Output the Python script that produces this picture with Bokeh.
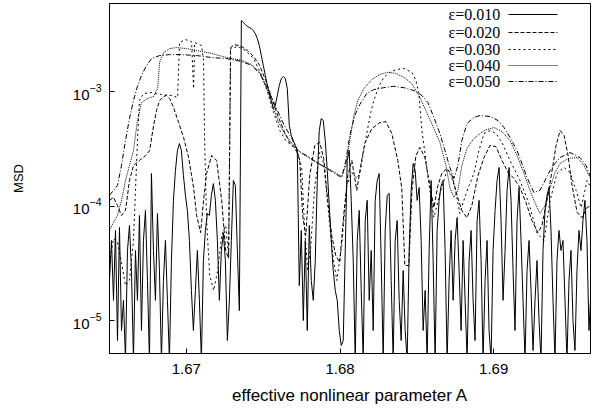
from bokeh.plotting import figure
from bokeh.models import Range1d, FixedTicker, Label, Arrow
from bokeh.embed import file_html
from bokeh.resources import INLINE

# ---------------- data ----------------
eps_labels = ["\u03b5=0.010", "\u03b5=0.020", "\u03b5=0.030", "\u03b5=0.040", "\u03b5=0.050"]
dashes = ["solid", "4 2", "2 3", "1 1", "5 2 1 2"]

x_ticks = [1.67, 1.68, 1.69]
y_ticks = [1e-5, 1e-4, 1e-3]

# eps = 0.010 (solid, strongly fluctuating)
A_010 = [
    1.66500, 1.66513, 1.66526, 1.66539, 1.66552, 1.66565, 1.66578, 1.66591, 1.66604, 1.66617,
    1.66630, 1.66643, 1.66656, 1.66669, 1.66682, 1.66695, 1.66708, 1.66721, 1.66734, 1.66747,
    1.66760, 1.66773, 1.66786, 1.66799, 1.66812, 1.66825, 1.66838, 1.66851, 1.66864, 1.66877,
    1.66890, 1.66903, 1.66916, 1.66929, 1.66942, 1.66955, 1.66968, 1.66981, 1.66994, 1.67007,
    1.67020, 1.67033, 1.67046, 1.67059, 1.67072, 1.67085, 1.67098, 1.67111, 1.67124, 1.67137,
    1.67150, 1.67163, 1.67176, 1.67189, 1.67202, 1.67215, 1.67228, 1.67241, 1.67254, 1.67267,
    1.67280, 1.67293, 1.67306, 1.67319, 1.67332, 1.67345, 1.67358, 1.67371, 1.67384, 1.67397,
    1.67410, 1.67423, 1.67436, 1.67449, 1.67462, 1.67475, 1.67488, 1.67501, 1.67514, 1.67527,
    1.67540, 1.67553, 1.67566, 1.67579, 1.67592, 1.67605, 1.67618, 1.67631, 1.67644, 1.67657,
    1.67670, 1.67683, 1.67696, 1.67709, 1.67722, 1.67735, 1.67748, 1.67761, 1.67774, 1.67787,
    1.67800, 1.67813, 1.67826, 1.67839, 1.67852, 1.67865, 1.67878, 1.67891, 1.67904, 1.67917,
    1.67930, 1.67943, 1.67956, 1.67969, 1.67982, 1.67995, 1.68008, 1.68021, 1.68034, 1.68047,
    1.68060, 1.68073, 1.68086, 1.68099, 1.68112, 1.68125, 1.68138, 1.68151, 1.68164, 1.68177,
    1.68190, 1.68203, 1.68216, 1.68229, 1.68242, 1.68255, 1.68268, 1.68281, 1.68294, 1.68307,
    1.68320, 1.68333, 1.68346, 1.68359, 1.68372, 1.68385, 1.68398, 1.68411, 1.68424, 1.68437,
    1.68450, 1.68463, 1.68476, 1.68489, 1.68502, 1.68515, 1.68528, 1.68541, 1.68554, 1.68567,
    1.68580, 1.68593, 1.68606, 1.68619, 1.68632, 1.68645, 1.68658, 1.68671, 1.68684, 1.68697,
    1.68710, 1.68723, 1.68736, 1.68749, 1.68762, 1.68775, 1.68788, 1.68801, 1.68814, 1.68827,
    1.68840, 1.68853, 1.68866, 1.68879, 1.68892, 1.68905, 1.68918, 1.68931, 1.68944, 1.68957,
    1.68970, 1.68983, 1.68996, 1.69009, 1.69022, 1.69035, 1.69048, 1.69061, 1.69074, 1.69087,
    1.69100, 1.69113, 1.69126, 1.69139, 1.69152, 1.69165, 1.69178, 1.69191, 1.69204, 1.69217,
    1.69230, 1.69243, 1.69256, 1.69269, 1.69282, 1.69295, 1.69308, 1.69321, 1.69334, 1.69347,
    1.69360, 1.69373, 1.69386, 1.69399, 1.69412, 1.69425, 1.69438, 1.69451, 1.69464, 1.69477,
    1.69490, 1.69503, 1.69516, 1.69529, 1.69542, 1.69555, 1.69568, 1.69581, 1.69594, 1.69607,
    1.69620, 1.69633,
]
MSD_010 = [
    2.24e-5, 5.0e-5, 1.5e-5, 6.11e-5, 6.69e-6, 6.5e-5, 8.18e-6, 1.5e-5, 4.5e-6, 4.09e-5,
    6.76e-5, 2.73e-5, 4.5e-6, 4.09e-5, 1.5e-5, 8.26e-5, 8.18e-6, 5.0e-5, 9.14e-5, 2.24e-5,
    4.5e-6, 1.92e-4, 4.09e-5, 1.5e-5, 8.6e-5, 2.73e-5, 4.5e-6, 2.24e-5, 5.0e-5, 1.5e-5,
    4.5e-6, 3.34e-5, 1.12e-4, 2.04e-4, 3.05e-4, 3.51e-4, 3.05e-4, 1.85e-4, 1.24e-4, 9.14e-5,
    5.0e-5, 1.83e-5, 8.18e-6, 1.83e-5, 4.09e-5, 1.5e-5, 4.5e-6, 3.34e-5, 6.11e-5, 8.6e-5,
    8.26e-5, 1.24e-4, 1.57e-4, 1.12e-4, 5.0e-5, 1.5e-5, 4.09e-5, 5.8e-5, 3.34e-5, 6.69e-6,
    1.5e-5, 5.0e-5, 1.67e-4, 1.51e-4, 4.09e-5, 1.22e-5, 4.17e-3, 4.0e-3, 3.85e-3, 3.7e-3,
    3.62e-3, 3.55e-3, 3.41e-3, 3.2e-3, 2.9e-3, 2.52e-3, 2.06e-3, 1.69e-3, 1.38e-3, 1.13e-3,
    9.6e-4, 8.34e-4, 7.1e-4, 7.55e-4, 9.23e-4, 1.13e-3, 1.3e-3, 1.35e-3, 1.3e-3, 1.06e-3,
    5.05e-4, 4.13e-4, 3.73e-4, 3.38e-4, 3.05e-4, 2.02e-5, 6.11e-5, 1.0e-5, 5.0e-5, 8.18e-6,
    6.76e-5, 2.24e-5, 1.5e-5, 3.34e-5, 1.67e-4, 4.56e-4, 5.81e-4, 5.58e-4, 3.73e-4, 2.04e-4,
    1.01e-4, 5.0e-5, 2.73e-5, 1.83e-5, 1.5e-5, 8.18e-6, 6.05e-6, 6.69e-6, 4.09e-5, 2.5e-4,
    3.05e-4, 1.12e-4, 3.34e-5, 4.5e-6, 5.0e-5, 9.14e-5, 1.83e-5, 4.5e-6, 7.47e-5, 1.12e-4,
    1.5e-5, 4.09e-5, 8.18e-6, 1.12e-4, 1.67e-4, 1.92e-4, 3.34e-5, 4.5e-6, 6.11e-5, 1.24e-4,
    1.29e-4, 2.24e-5, 4.5e-6, 5.0e-5, 7.47e-5, 1.5e-5, 6.69e-6, 2.73e-5, 8.18e-6, 4.5e-6,
    4.09e-5, 1.37e-4, 2.35e-4, 2.04e-4, 1.12e-4, 1.45e-4, 5.0e-5, 8.18e-6, 1.83e-5, 4.5e-6,
    4.09e-5, 1.67e-4, 3.34e-5, 4.5e-6, 6.11e-5, 1.12e-4, 1.51e-4, 1.67e-4, 4.09e-5, 4.5e-6,
    2.24e-5, 6.11e-5, 1.5e-5, 5.0e-5, 7.94e-5, 2.73e-5, 8.18e-6, 5.0e-5, 1.5e-5, 4.5e-6,
    3.34e-5, 6.11e-5, 1.5e-5, 6.69e-6, 7.47e-5, 1.12e-4, 3.34e-5, 4.5e-6, 2.24e-5, 5.0e-5,
    8.18e-6, 4.5e-6, 4.09e-5, 9.14e-5, 1.67e-4, 2.17e-4, 7.47e-5, 1.5e-5, 4.09e-5, 1.37e-4,
    2.17e-4, 1.12e-4, 2.73e-5, 8.18e-6, 7.47e-5, 1.45e-4, 5.0e-5, 1.5e-5, 4.5e-6, 2.73e-5,
    5.0e-5, 1.83e-5, 5.47e-6, 1.5e-5, 3.34e-5, 1.0e-5, 4.5e-6, 4.09e-5, 9.14e-5, 1.24e-4,
    1.45e-4, 6.11e-5, 1.5e-5, 4.5e-6, 3.34e-5, 6.11e-5, 4.09e-5, 5.0e-5, 1.5e-5, 4.5e-6,
    2.24e-5, 4.09e-5, 1.0e-5, 5.47e-6, 2.73e-5, 6.11e-5, 4.09e-5, 7.47e-5, 1.12e-4, 5.0e-5,
    8.18e-6, 1.83e-5,
]

# eps = 0.020 (dashed)
A_020 = [
    1.66500, 1.66526, 1.66552, 1.66578, 1.66604, 1.66630, 1.66656, 1.66695, 1.66735, 1.66761,
    1.66787, 1.66806, 1.66826, 1.66852, 1.66871, 1.66891, 1.66917, 1.66950, 1.66982, 1.67015,
    1.67047, 1.67067, 1.67093, 1.67112, 1.67132, 1.67165, 1.67197, 1.67230, 1.67256, 1.67275,
    1.67288, 1.67314, 1.67360, 1.67399, 1.67438, 1.67477, 1.67516, 1.67555, 1.67595, 1.67634,
    1.67673, 1.67712, 1.67738, 1.67757, 1.67777, 1.67803, 1.67836, 1.67868, 1.67894, 1.67920,
    1.67946, 1.67972, 1.67998, 1.68024, 1.68051, 1.68077, 1.68109, 1.68135, 1.68161, 1.68207,
    1.68259, 1.68298, 1.68337, 1.68376, 1.68402, 1.68422, 1.68448, 1.68468, 1.68494, 1.68520,
    1.68552, 1.68585, 1.68611, 1.68637, 1.68663, 1.68696, 1.68728, 1.68761, 1.68793, 1.68826,
    1.68858, 1.68898, 1.68937, 1.68976, 1.69015, 1.69054, 1.69093, 1.69132, 1.69171, 1.69210,
    1.69249, 1.69288, 1.69314, 1.69347, 1.69380, 1.69406, 1.69432, 1.69458, 1.69484, 1.69510,
    1.69543, 1.69575, 1.69608, 1.69640,
]
MSD_020 = [
    1.12e-4, 1.19e-4, 1.01e-4, 8.26e-5, 9.14e-5, 1.67e-4, 2.26e-4, 2.50e-4, 2.76e-4, 3.05e-4,
    5.05e-4, 6.82e-4, 8.34e-4, 9.05e-4, 9.23e-4, 8.7e-4, 7.25e-4, 5.35e-4, 3.97e-4, 2.65e-4,
    1.45e-4, 8.26e-5, 5.85e-5, 1.12e-4, 1.93e-4, 2.76e-4, 2.50e-4, 1.12e-4, 4.09e-5, 3.48e-5,
    2.42e-3, 2.57e-3, 2.47e-3, 2.28e-3, 2.02e-3, 1.69e-3, 1.25e-3, 8.86e-4, 6.17e-4, 4.56e-4,
    3.59e-4, 3.18e-4, 2.50e-4, 8.26e-5, 5.52e-5, 1.85e-4, 3.38e-4, 3.59e-4, 2.60e-4, 1.12e-4,
    5.52e-5, 3.70e-5, 3.22e-5, 8.26e-5, 1.85e-4, 2.50e-4, 1.37e-4, 2.26e-4, 3.52e-4, 4.74e-4,
    5.35e-4, 5.46e-4, 4.30e-4, 2.50e-4, 1.42e-4, 3.02e-5, 3.02e-5, 1.37e-4, 2.76e-4, 3.25e-4,
    2.65e-4, 1.51e-4, 9.7e-5, 1.51e-4, 1.93e-4, 2.13e-4, 1.85e-4, 1.24e-4, 9.14e-5, 7.9e-5,
    1.01e-4, 1.85e-4, 2.65e-4, 3.38e-4, 3.30e-4, 2.50e-4, 1.97e-4, 1.74e-4, 1.45e-4, 1.07e-4,
    7.47e-5, 5.85e-5, 6.76e-5, 1.12e-4, 2.04e-4, 3.38e-4, 4.56e-4, 4.13e-4, 2.76e-4, 1.51e-4,
    8.8e-5, 7.9e-5, 9.7e-5, 1.01e-4,
]

# eps = 0.030 (dotted)
A_030 = [
    1.66500, 1.66526, 1.66552, 1.66578, 1.66604, 1.66630, 1.66656, 1.66669, 1.66682, 1.66695,
    1.66722, 1.66774, 1.66839, 1.66904, 1.66943, 1.66956, 1.66995, 1.67034, 1.67047, 1.67054,
    1.67099, 1.67112, 1.67119, 1.67132, 1.67152, 1.67178, 1.67204, 1.67230, 1.67256, 1.67275,
    1.67288, 1.67334, 1.67386, 1.67438, 1.67490, 1.67529, 1.67568, 1.67608, 1.67647, 1.67686,
    1.67725, 1.67751, 1.67770, 1.67790, 1.67810, 1.67836, 1.67868, 1.67894, 1.67927, 1.67953,
    1.67979, 1.68011, 1.68044, 1.68077, 1.68109, 1.68129, 1.68155, 1.68174, 1.68200, 1.68220,
    1.68253, 1.68285, 1.68324, 1.68370, 1.68415, 1.68468, 1.68494, 1.68513, 1.68533, 1.68559,
    1.68578, 1.68611, 1.68650, 1.68696, 1.68722, 1.68748, 1.68780, 1.68806, 1.68832, 1.68871,
    1.68904, 1.68937, 1.68976, 1.69015, 1.69054, 1.69106, 1.69171, 1.69230, 1.69282, 1.69328,
    1.69367, 1.69412, 1.69458, 1.69497, 1.69536, 1.69569, 1.69608, 1.69640,
]
MSD_030 = [
    3.21e-5, 5.2e-5, 4.8e-5, 3.21e-5, 2.02e-5, 2.24e-5, 5.0e-5, 1.37e-4, 3.73e-4, 8.34e-4,
    9.6e-4, 9.8e-4, 9.4e-4, 9.23e-4, 8.86e-4, 2.68e-3, 2.84e-3, 2.73e-3, 1.06e-3, 2.68e-3,
    2.52e-3, 1.87e-3, 3.73e-4, 7.47e-5, 2.47e-5, 1.83e-5, 2.73e-5, 5.52e-5, 6.76e-5, 3.70e-5,
    2.37e-3, 2.47e-3, 2.28e-3, 1.94e-3, 1.38e-3, 9.8e-4, 6.55e-4, 4.56e-4, 3.73e-4, 3.38e-4,
    2.93e-4, 2.13e-4, 6.11e-5, 2.73e-5, 4.52e-5, 1.51e-4, 2.93e-4, 2.35e-4, 8.26e-5, 3.70e-5,
    2.24e-5, 4.52e-5, 1.51e-4, 1.96e-4, 1.74e-4, 1.92e-4, 3.05e-4, 4.30e-4, 6.55e-4, 8.34e-4,
    1.11e-3, 1.33e-3, 1.47e-3, 1.56e-3, 1.59e-3, 1.47e-3, 1.25e-3, 9.6e-4, 4.56e-4, 2.50e-4,
    1.57e-4, 7.94e-5, 1.29e-4, 2.04e-4, 1.85e-4, 1.45e-4, 8.6e-5, 1.12e-4, 1.42e-4, 1.92e-4,
    3.05e-4, 4.30e-4, 4.56e-4, 4.30e-4, 3.59e-4, 2.50e-4, 1.67e-4, 1.05e-4, 5.8e-5, 5.0e-5,
    1.12e-4, 1.92e-4, 2.17e-4, 1.96e-4, 1.37e-4, 9.7e-5, 1.67e-4, 1.37e-4,
]

# eps = 0.040 (fine dotted)
A_040 = [
    1.66500, 1.66526, 1.66552, 1.66578, 1.66604, 1.66630, 1.66656, 1.66682, 1.66708, 1.66748,
    1.66787, 1.66813, 1.66826, 1.66852, 1.66891, 1.66937, 1.67002, 1.67067, 1.67165, 1.67262,
    1.67360, 1.67425, 1.67477, 1.67516, 1.67555, 1.67595, 1.67634, 1.67673, 1.67712, 1.67751,
    1.67816, 1.67881, 1.67946, 1.68011, 1.68038, 1.68064, 1.68090, 1.68116, 1.68155, 1.68207,
    1.68259, 1.68311, 1.68363, 1.68415, 1.68468, 1.68520, 1.68565, 1.68611, 1.68650, 1.68689,
    1.68715, 1.68741, 1.68767, 1.68793, 1.68826, 1.68871, 1.68937, 1.69002, 1.69054, 1.69106,
    1.69152, 1.69197, 1.69236, 1.69262, 1.69301, 1.69334, 1.69367, 1.69399, 1.69432, 1.69484,
    1.69543, 1.69588, 1.69627, 1.69640,
]
MSD_040 = [
    6.11e-5, 7.2e-5, 8.26e-5, 1.12e-4, 1.67e-4, 2.26e-4, 3.05e-4, 5.58e-4, 8.0e-4, 8.7e-4,
    9.05e-4, 1.06e-3, 1.79e-3, 2.19e-3, 2.37e-3, 2.42e-3, 2.37e-3, 2.28e-3, 2.15e-3, 1.98e-3,
    1.87e-3, 1.72e-3, 1.47e-3, 1.13e-3, 8.0e-4, 5.58e-4, 4.38e-4, 3.73e-4, 3.24e-4, 2.87e-4,
    2.55e-4, 2.26e-4, 2.04e-4, 1.81e-4, 2.26e-4, 3.73e-4, 6.17e-4, 8.34e-4, 1.06e-3, 1.27e-3,
    1.41e-3, 1.47e-3, 1.44e-3, 1.33e-3, 1.17e-3, 8.86e-4, 6.55e-4, 4.75e-4, 3.59e-4, 2.26e-4,
    1.45e-4, 1.19e-4, 1.37e-4, 2.26e-4, 3.18e-4, 3.89e-4, 4.56e-4, 4.85e-4, 4.47e-4, 3.73e-4,
    2.76e-4, 1.92e-4, 1.37e-4, 1.12e-4, 8.6e-5, 1.01e-4, 1.45e-4, 1.96e-4, 2.35e-4, 2.60e-4,
    2.65e-4, 2.26e-4, 1.77e-4, 1.60e-4,
]

# eps = 0.050 (dash-dot)
A_050 = [
    1.66500, 1.66526, 1.66552, 1.66578, 1.66604, 1.66630, 1.66656, 1.66682, 1.66708, 1.66741,
    1.66774, 1.66826, 1.66891, 1.66969, 1.67067, 1.67165, 1.67262, 1.67360, 1.67425, 1.67477,
    1.67529, 1.67581, 1.67634, 1.67686, 1.67725, 1.67783, 1.67849, 1.67914, 1.67979, 1.68011,
    1.68038, 1.68064, 1.68096, 1.68129, 1.68174, 1.68220, 1.68285, 1.68350, 1.68415, 1.68481,
    1.68533, 1.68572, 1.68611, 1.68650, 1.68683, 1.68715, 1.68741, 1.68767, 1.68793, 1.68826,
    1.68871, 1.68911, 1.68976, 1.69028, 1.69067, 1.69106, 1.69152, 1.69184, 1.69217, 1.69262,
    1.69301, 1.69334, 1.69367, 1.69399, 1.69432, 1.69497, 1.69562, 1.69601, 1.69640,
]
MSD_050 = [
    1.24e-4, 1.37e-4, 1.51e-4, 2.26e-4, 3.73e-4, 5.81e-4, 8.34e-4, 1.11e-3, 1.38e-3, 1.69e-3,
    1.94e-3, 2.06e-3, 2.10e-3, 2.10e-3, 2.06e-3, 1.98e-3, 1.94e-3, 1.83e-3, 1.69e-3, 1.44e-3,
    1.06e-3, 7.4e-4, 5.15e-4, 3.89e-4, 3.05e-4, 2.76e-4, 2.40e-4, 2.13e-4, 1.88e-4, 1.77e-4,
    2.50e-4, 4.13e-4, 6.17e-4, 7.7e-4, 9.6e-4, 1.04e-3, 1.08e-3, 1.11e-3, 1.08e-3, 1.02e-3,
    9.23e-4, 8.0e-4, 5.93e-4, 4.30e-4, 3.05e-4, 2.17e-4, 1.74e-4, 2.26e-4, 3.73e-4, 5.25e-4,
    5.93e-4, 6.17e-4, 6.05e-4, 5.58e-4, 4.85e-4, 3.97e-4, 3.05e-4, 2.35e-4, 1.77e-4, 1.31e-4,
    1.37e-4, 1.67e-4, 2.04e-4, 2.35e-4, 2.65e-4, 2.93e-4, 2.65e-4, 2.26e-4, 1.67e-4,
]

series_A = [A_010, A_020, A_030, A_040, A_050]
series_MSD = [MSD_010, MSD_020, MSD_030, MSD_040, MSD_050]

# ---------------- figure ----------------
p = figure(width=600, height=409, y_axis_type="log",
           x_range=Range1d(1.665, 1.6963), y_range=Range1d(5.15e-6, 5.87e-3),
           output_backend="svg", toolbar_location=None,
           min_border_left=109, min_border_right=10, min_border_top=3, min_border_bottom=56)
p.background_fill_color = "white"
p.border_fill_color = "white"
p.xgrid.visible = False
p.ygrid.visible = False
p.outline_line_color = "black"
p.outline_line_width = 1

FONT = "Liberation Sans"

for ax in (p.xaxis[0], p.yaxis[0]):
    ax.major_tick_in = 5
    ax.major_tick_out = 0
    ax.minor_tick_line_color = None
    ax.axis_line_color = "black"
    ax.major_tick_line_color = "black"
    ax.major_label_text_font = FONT
    ax.major_label_text_font_size = "15px"
    ax.major_label_text_color = "black"
    ax.axis_label_text_font = FONT
    ax.axis_label_text_font_style = "normal"
    ax.axis_label_text_color = "black"

p.xaxis[0].ticker = FixedTicker(ticks=x_ticks)
p.yaxis[0].ticker = FixedTicker(ticks=y_ticks)
p.xaxis[0].axis_label = "effective nonlinear parameter A"
p.xaxis[0].axis_label_text_font_size = "17px"
p.xaxis[0].major_label_standoff = 10
p.xaxis[0].axis_label_standoff = 9
p.yaxis[0].axis_label = "MSD"
p.yaxis[0].axis_label_text_font_size = "13px"
p.yaxis[0].major_label_standoff = 8
p.yaxis[0].axis_label_standoff = 44

for A, M, d in zip(series_A, series_MSD, dashes):
    p.line(A, M, line_color="black", line_width=1, line_dash=d)

# legend (text left, line sample right), positioned in screen units inside the frame
legend_y = [339, 321, 304, 288, 272]
for lab, d, yy in zip(eps_labels, dashes, legend_y):
    p.add_layout(Label(x=339, y=yy, x_units="screen", y_units="screen", text=lab,
                       text_font="Liberation Serif", text_font_size="16px",
                       text_color="black", text_baseline="middle", text_align="left"))
    p.add_layout(Arrow(end=None, x_start=399, y_start=yy, x_end=448, y_end=yy,
                       start_units="screen", end_units="screen",
                       line_color="black", line_width=1, line_dash=d))

open("out.html", "w").write(file_html(p, INLINE))
